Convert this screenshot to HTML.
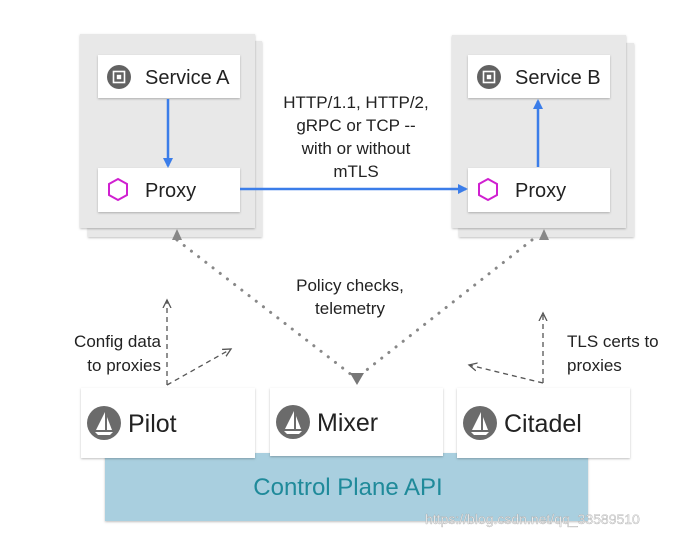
<!DOCTYPE html>
<html><head><meta charset="utf-8"><style>
html,body{margin:0;padding:0;background:#fff}
svg{display:block}
text{font-family:"Liberation Sans",Roboto,sans-serif}
</style></head><body>
<svg width="678" height="537" viewBox="0 0 678 537" xmlns="http://www.w3.org/2000/svg">
<defs>
<filter id="sh" x="-10%" y="-10%" width="120%" height="130%"><feDropShadow dx="0" dy="1" stdDeviation="1" flood-color="#000" flood-opacity="0.25"/></filter>
<marker id="ab" markerWidth="10" markerHeight="10" refX="8" refY="5" orient="auto" markerUnits="userSpaceOnUse"><path d="M0,0 L10,5 L0,10 z" fill="#3b7de9"/></marker>
<marker id="ad" markerWidth="10" markerHeight="10" refX="8" refY="5" orient="auto" markerUnits="userSpaceOnUse"><path d="M0,1 L8,5 L0,9" fill="none" stroke="#555" stroke-width="1.3"/></marker>
<g id="chip"><circle r="12" fill="#626262"/><rect x="-5.5" y="-5.5" width="11" height="11" fill="none" stroke="#fff" stroke-width="1.6"/><rect x="-2.2" y="-2.2" width="4.4" height="4.4" fill="#fff"/></g>
<g id="sail"><circle r="17" fill="#6b6b6b"/><path d="M1,-11 L1,7 L-8,7 z" fill="#fff"/><path d="M3,-6 L3,7 L8,7 z" fill="#fff"/><path d="M-9,9 L9,9 L6,12 L-6,12 z" fill="#fff"/></g>
</defs>
<rect x="88" y="41" width="174" height="196" fill="#e8e8e8" filter="url(#sh)"/>
<rect x="80" y="34" width="175" height="194" fill="#e8e8e8" filter="url(#sh)"/>
<rect x="459" y="43" width="175" height="194" fill="#e8e8e8" filter="url(#sh)"/>
<rect x="452" y="35" width="174" height="193" fill="#e8e8e8" filter="url(#sh)"/>
<rect x="98" y="55" width="142" height="43" fill="#fff" filter="url(#sh)"/>
<rect x="98" y="168" width="142" height="44" fill="#fff" filter="url(#sh)"/>
<rect x="468" y="55" width="142" height="43" fill="#fff" filter="url(#sh)"/>
<rect x="468" y="168" width="142" height="44" fill="#fff" filter="url(#sh)"/>
<use href="#chip" x="119" y="77"/>
<use href="#chip" x="489" y="77"/>
<text x="145" y="84" font-size="20" fill="#222">Service A</text>
<text x="515" y="84" font-size="20" fill="#222">Service B</text>
<polygon points="118,179 127,184 127,195 118,200 109,195 109,184" fill="none" stroke="#d020d0" stroke-width="2"/>
<polygon points="488,179 497,184 497,195 488,200 479,195 479,184" fill="none" stroke="#d020d0" stroke-width="2"/>
<text x="145" y="197" font-size="20" fill="#222">Proxy</text>
<text x="515" y="197" font-size="20" fill="#222">Proxy</text>
<line x1="168" y1="99" x2="168" y2="166" stroke="#3b7de9" stroke-width="2.5" marker-end="url(#ab)"/>
<line x1="538" y1="167" x2="538" y2="101" stroke="#3b7de9" stroke-width="2.5" marker-end="url(#ab)"/>
<line x1="240" y1="189" x2="466" y2="189" stroke="#3b7de9" stroke-width="2.5" marker-end="url(#ab)"/>
<g font-size="17" fill="#222" text-anchor="middle">
<text x="356" y="108">HTTP/1.1, HTTP/2,</text>
<text x="356" y="131">gRPC or TCP --</text>
<text x="356" y="154">with or without</text>
<text x="356" y="177">mTLS</text>
<text x="350" y="291">Policy checks,</text>
<text x="350" y="314">telemetry</text>
</g>
<g font-size="17" fill="#222">
<text x="161" y="347" text-anchor="end">Config data</text>
<text x="161" y="371" text-anchor="end">to proxies</text>
<text x="567" y="347">TLS certs to</text>
<text x="567" y="371">proxies</text>
</g>
<g stroke="#888" stroke-width="3" stroke-linecap="round" stroke-dasharray="0.1 9" fill="none">
<line x1="177" y1="240" x2="353" y2="376"/>
<line x1="532" y1="240" x2="359" y2="376"/>
</g>
<path d="M172,240 L177,229 L182,240 z" fill="#888"/>
<path d="M539,240 L544,229 L549,240 z" fill="#888"/>
<path d="M350,373 L364,373 L357,385 z" fill="#777"/>
<g stroke="#555" stroke-width="1.3" stroke-dasharray="5 4" fill="none">
<line x1="167" y1="385" x2="167" y2="300" marker-end="url(#ad)"/>
<line x1="167" y1="385" x2="231" y2="349" marker-end="url(#ad)"/>
<line x1="543" y1="383" x2="543" y2="313" marker-end="url(#ad)"/>
<line x1="543" y1="383" x2="469" y2="365" marker-end="url(#ad)"/>
</g>
<rect x="105" y="453" width="483" height="68" fill="#a9cfdf" filter="url(#sh)"/>
<text x="348" y="495" font-size="24" fill="#1f8a9a" text-anchor="middle">Control Plane API</text>
<rect x="81" y="388" width="174" height="70" fill="#fff" filter="url(#sh)"/>
<rect x="270" y="388" width="173" height="68" fill="#fff" filter="url(#sh)"/>
<rect x="457" y="388" width="173" height="70" fill="#fff" filter="url(#sh)"/>
<use href="#sail" x="104" y="423"/>
<use href="#sail" x="293" y="422"/>
<use href="#sail" x="480" y="423"/>
<text x="128" y="432" font-size="25" fill="#222">Pilot</text>
<text x="317" y="431" font-size="25" fill="#222">Mixer</text>
<text x="504" y="432" font-size="25" fill="#222">Citadel</text>
<text x="425" y="524" font-size="14" fill="#eee" stroke="#999" stroke-width="0.3">https://blog.csdn.net/qq_33589510</text>
</svg>
</body></html>
